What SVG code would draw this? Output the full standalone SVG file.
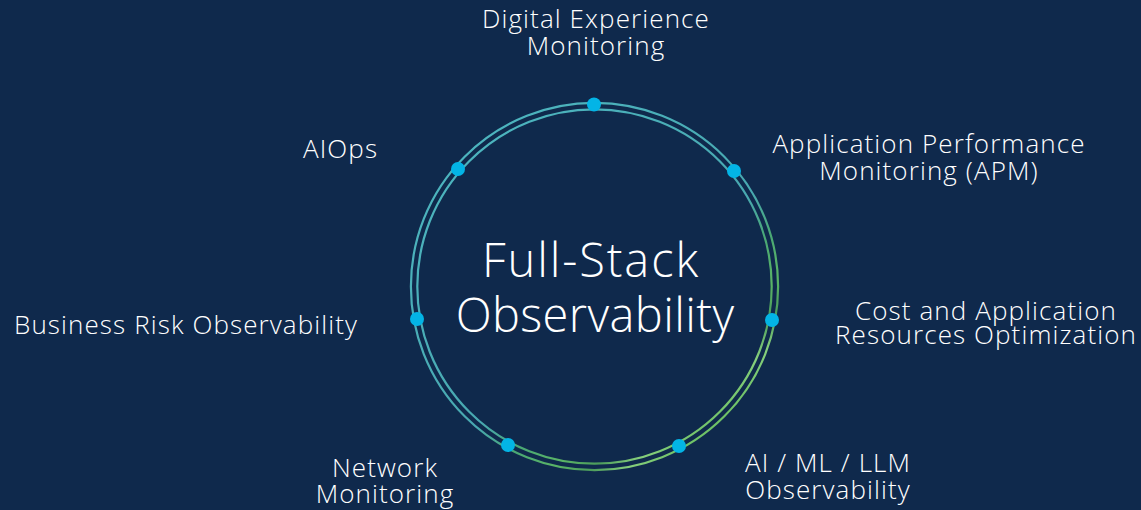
<svg xmlns="http://www.w3.org/2000/svg" width="1141" height="510" viewBox="0 0 1141 510">
  <defs>
    <linearGradient id="ringGrad" gradientUnits="userSpaceOnUse" x1="475" y1="146.5" x2="715" y2="428">
      <stop offset="0" stop-color="#4cb4be"/>
      <stop offset="0.58" stop-color="#48a8b0"/>
      <stop offset="0.7" stop-color="#4aa874"/>
      <stop offset="0.8" stop-color="#5ab466"/>
      <stop offset="0.87" stop-color="#4c9c5c"/>
      <stop offset="0.93" stop-color="#86cf7c"/>
      <stop offset="1" stop-color="#6cc064"/>
    </linearGradient>
    <style>
      .lbl { font-family: "Open Sans", "Liberation Sans", sans-serif; font-size: 26px; font-weight: 300; fill: #ffffff; letter-spacing: 1.1px; }
      .mid { text-anchor: middle; }
      .title { font-family: "Open Sans", "Liberation Sans", sans-serif; font-size: 47px; font-weight: 300; fill: #ffffff; text-anchor: middle; }
      .ring { fill: none; stroke: url(#ringGrad); stroke-width: 2.2; }
      .dot { fill: #03b4e6; }
    </style>
  </defs>
  <rect x="0" y="0" width="1141" height="510" fill="#0f294c"/>

  <g id="ring">
    <circle class="ring" cx="594.5" cy="286.5" r="183.6"/>
    <circle class="ring" cx="594.5" cy="286.5" r="177.2"/>
  </g>

  <g id="connectors"></g>

  <g id="center">
    <text class="title"><tspan x="591" y="277" letter-spacing="1.9">Full-Stack</tspan><tspan x="595" y="332" letter-spacing="0.4">Observability</tspan></text>
  </g>

  <g id="node-dem">
    <circle class="dot" cx="594" cy="104.5" r="7"/>
    <text class="lbl mid"><tspan x="596" y="28">Digital Experience</tspan><tspan x="596" y="55">Monitoring</tspan></text>
  </g>

  <g id="node-apm">
    <circle class="dot" cx="734" cy="171" r="7"/>
    <text class="lbl mid"><tspan x="929" y="153">Application Performance</tspan><tspan x="929" y="180">Monitoring (APM)</tspan></text>
  </g>

  <g id="node-cost">
    <circle class="dot" cx="772" cy="320" r="7"/>
    <text class="lbl mid"><tspan x="986" y="320">Cost and Application</tspan><tspan x="986" y="344">Resources Optimization</tspan></text>
  </g>

  <g id="node-aiml">
    <circle class="dot" cx="679" cy="446" r="7"/>
    <text class="lbl mid"><tspan x="828" y="472">AI / ML / LLM</tspan><tspan x="828" y="499">Observability</tspan></text>
  </g>

  <g id="node-network">
    <circle class="dot" cx="508" cy="445" r="7"/>
    <text class="lbl mid"><tspan x="385" y="477">Network</tspan><tspan x="385" y="503">Monitoring</tspan></text>
  </g>

  <g id="node-bro">
    <circle class="dot" cx="417" cy="319" r="7"/>
    <text class="lbl" x="14" y="334">Business Risk Observability</text>
  </g>

  <g id="node-aiops">
    <circle class="dot" cx="458" cy="169" r="7"/>
    <text class="lbl" x="303" y="158">AIOps</text>
  </g>
</svg>
